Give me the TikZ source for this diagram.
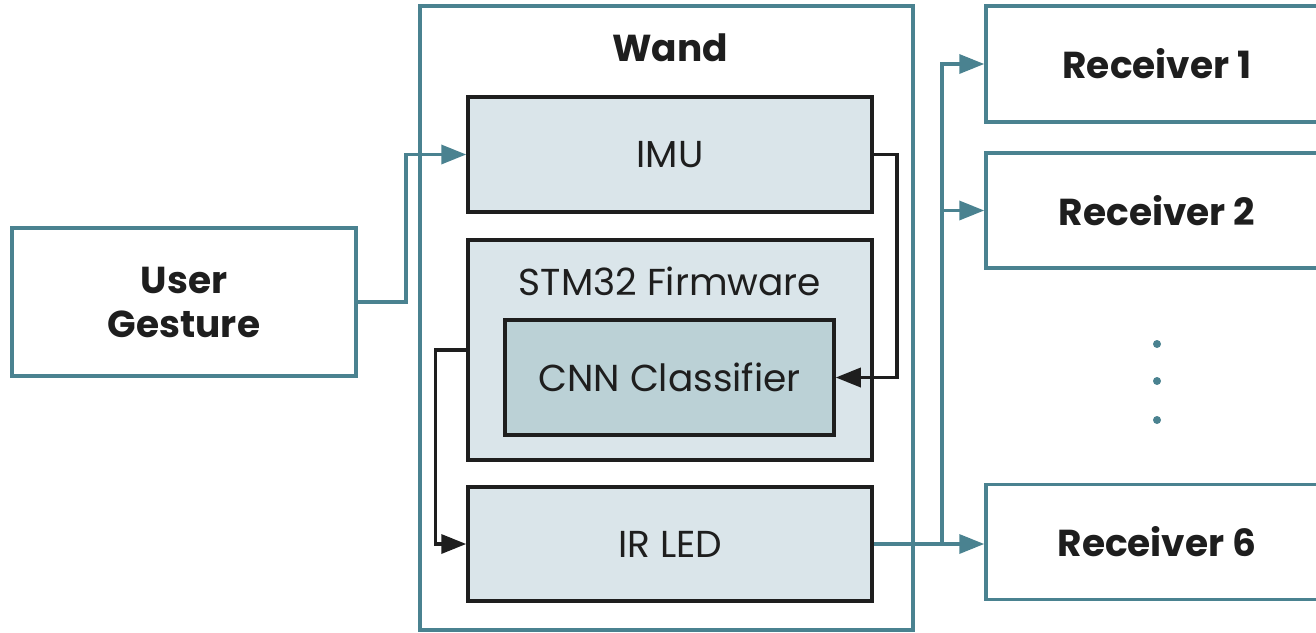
\documentclass[tikz,border=0pt]{standalone}
\usepackage{fontspec}
\setmainfont{Poppins}
\usetikzlibrary{arrows.meta}
\definecolor{tealc}{HTML}{4A8290}
\definecolor{lightfill}{HTML}{DAE5EA}
\definecolor{darkfill}{HTML}{BBD1D6}
\definecolor{ink}{HTML}{1E1E1E}
\tikzset{
  tealbox/.style={draw=tealc, line width=3.5pt, fill=white, inner sep=0pt, font=\fontsize{37.5}{44}\selectfont\bfseries, text=ink, align=center},
  innerbox/.style={draw=ink, line width=3.5pt, fill=lightfill, inner sep=0pt, font=\fontsize{37.5}{44}\selectfont, text=ink},
  cnnbox/.style={draw=ink, line width=3.5pt, fill=darkfill, inner sep=0pt, font=\fontsize{37.5}{44}\selectfont, text=ink},
  tealarrow/.style={draw=tealc, line width=3.5pt, -{Triangle[length=25pt,width=19pt]}},
  blackarrow/.style={draw=ink, line width=3.5pt, -{Triangle[length=25pt,width=19pt]}},
  txt/.style={inner sep=0pt, text=ink, font=\fontsize{37.5}{44}\selectfont},
}
\begin{document}
\begin{tikzpicture}[x=1pt,y=-1pt]
\useasboundingbox (0,0) rectangle (1316,632);
\begin{scope}
\clip (0,0) rectangle (1316,632);
% Wand
\node[tealbox, minimum width=493pt, minimum height=624pt] (wand) at (666.5,318) {};
\node[txt, font=\fontsize{37.5}{44}\selectfont\bfseries] (wandt) at (670,48) {Wand};
% User gesture
\node[tealbox, minimum width=344pt, minimum height=148pt] (ug) at (184,302) {User\\Gesture};
% inner boxes
\node[innerbox, minimum width=404pt, minimum height=115pt] (imu) at (670,154.5) {IMU};
\node[innerbox, minimum width=404pt, minimum height=220pt] (stm) at (670,350) {};
\node[txt] (stmt) at (670,281) {STM32 Firmware};
\node[cnnbox, minimum width=329pt, minimum height=115pt] (cnn) at (669.5,377.5) {CNN Classifier};
\node[innerbox, minimum width=404pt, minimum height=114pt] (ir) at (670,544) {IR LED};
% receivers
\node[tealbox, minimum width=342pt, minimum height=116pt] (r1) at (1157,64) {Receiver 1};
\node[tealbox, minimum width=342pt, minimum height=115pt] (r2) at (1157,210.5) {Receiver 2};
\node[tealbox, minimum width=342pt, minimum height=115pt] (r6) at (1157,542) {Receiver 6};
% dots
\fill[tealc] (1157,344) circle (4pt);
\fill[tealc] (1157,381) circle (4pt);
\fill[tealc] (1157,420) circle (4pt);
% connectors
\draw[tealarrow] (ug.east) -- ++(48,0) |- (imu.west);
\draw[blackarrow] (imu.east) -- ++(23,0) |- (cnn.east);
\draw[blackarrow] (stm.west) -- ++(-31,0) |- (ir.west);
\coordinate (bus) at (942,544);
\draw[tealarrow] (ir.east) -- (ir.east -| r6.west);
\draw[tealarrow] (bus) |- (r1.west);
\draw[tealarrow] (bus) |- (r2.west);
\end{scope}
\end{tikzpicture}
\end{document}
